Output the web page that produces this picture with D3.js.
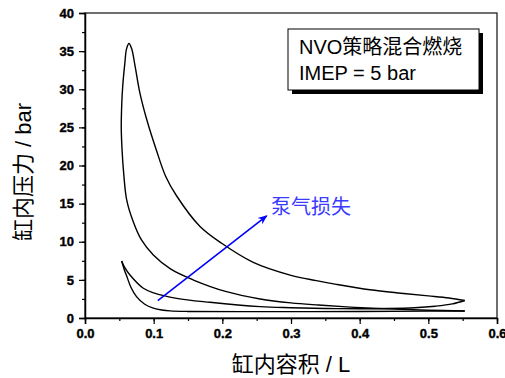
<!DOCTYPE html>
<html>
<head>
<meta charset="utf-8">
<script src="https://cdn.jsdelivr.net/npm/d3@7"></script>
<style>
  body { margin: 0; background: #fff; }
  text { font-family: "Liberation Sans", Arial, "Noto Sans CJK SC", sans-serif; }
</style>
</head>
<body>
<div id="graph"></div>
<script>
// compression + combustion (main loop, inner branch)
var compV = [0.553, 0.50, 0.45, 0.393, 0.34, 0.30, 0.255, 0.206, 0.158, 0.125, 0.0995, 0.0825, 0.07, 0.0607, 0.0565, 0.054, 0.0528, 0.0535, 0.055, 0.058, 0.0605, 0.0641];
var compP = [0.92, 1.02, 1.17, 1.4, 1.7, 1.98, 2.5, 3.45, 4.98, 6.4, 8.26, 10.2, 12.7, 15.5, 18.8, 22, 25, 28, 30.5, 33.4, 35.3, 36.0];
// expansion (main loop, outer branch)
var expV = [0.0641, 0.068, 0.073, 0.080, 0.090, 0.104, 0.1174, 0.1335, 0.1675, 0.199, 0.245, 0.30, 0.337, 0.364, 0.415, 0.46, 0.50, 0.53, 0.553];
var expP = [36.0, 35.3, 33.0, 29.5, 26.0, 22.0, 18.6, 16.0, 12.0, 9.8, 7.3, 5.6, 4.9, 4.45, 3.7, 3.25, 2.9, 2.62, 2.3];
// exhaust + recompression (NVO)
var exhV = [0.553, 0.535, 0.51, 0.48, 0.44, 0.40, 0.35, 0.30, 0.255, 0.182, 0.1335, 0.10, 0.085, 0.0655, 0.058, 0.0534];
var exhP = [2.3, 1.85, 1.55, 1.35, 1.25, 1.22, 1.25, 1.35, 1.49, 2.06, 2.58, 3.3, 3.9, 5.64, 6.6, 7.48];
// re-expansion + intake
var reV = [0.0534, 0.057, 0.0607, 0.067, 0.075, 0.087, 0.0995, 0.112, 0.124, 0.15, 0.255, 0.40, 0.50, 0.553];
var reP = [7.48, 6.4, 5.5, 4.0, 2.8, 1.8, 1.3, 1.05, 0.93, 0.86, 0.83, 0.86, 0.9, 0.92];

var arrowV = [0.106, 0.2646];
var arrowP = [2.27, 13.4];

var xTicks = [0.0, 0.1, 0.2, 0.3, 0.4, 0.5, 0.6];
var yTicks = [0, 5, 10, 15, 20, 25, 30, 35, 40];

var legendLines = ["NVO策略混合燃烧", "IMEP = 5 bar"];
var arrowLabel = "泵气损失";
var xTitle = "缸内容积 / L";
var yTitle = "缸内压力 / bar";

var width = 505, height = 378;
var pL = 85, pR = 497, pT = 13, pB = 318;

var svg = d3.select("#graph").append("svg")
    .attr("width", width)
    .attr("height", height);

var x = d3.scaleLinear().domain([0, 0.6]).range([pL, pR]);
var y = d3.scaleLinear().domain([0, 40]).range([pB, pT]);

// frame
svg.append("rect")
    .attr("x", pL).attr("y", pT)
    .attr("width", pR - pL).attr("height", pB - pT)
    .attr("fill", "none").attr("stroke", "#222").attr("stroke-width", 1.3);

// minor ticks
var minorX = d3.range(0, 0.6001, 0.05);
var minorY = d3.range(0, 40.001, 2.5);
svg.append("g").attr("transform", "translate(0," + pB + ")")
    .call(d3.axisBottom(x).tickValues(minorX).tickSize(3).tickFormat(""))
    .call(function (g) { g.select(".domain").remove(); });
svg.append("g").attr("transform", "translate(" + pL + ",0)")
    .call(d3.axisLeft(y).tickValues(minorY).tickSize(3).tickFormat(""))
    .call(function (g) { g.select(".domain").remove(); });

// major axes
var xAxis = svg.append("g").attr("transform", "translate(0," + pB + ")")
    .call(d3.axisBottom(x).tickValues(xTicks).tickSize(6).tickPadding(5).tickFormat(d3.format(".1f")));
var yAxis = svg.append("g").attr("transform", "translate(" + pL + ",0)")
    .call(d3.axisLeft(y).tickValues(yTicks).tickSize(6).tickPadding(5).tickFormat(d3.format("d")));

[xAxis, yAxis].forEach(function (a) {
    a.attr("font-size", 13).attr("font-family", "'Liberation Sans', Arial, sans-serif").attr("font-weight", "bold");
    a.select(".domain").attr("stroke", "#000").attr("stroke-width", 1.5);
    a.selectAll(".tick text")
        .attr("fill", "#000")
        .attr("stroke", "#000")
        .attr("stroke-width", 0.4)
        .style("font-family", "'Liberation Sans', Arial, sans-serif")
        .style("font-weight", "700")
        .style("font-size", "13px");
});
svg.selectAll(".tick line").attr("stroke", "#000").attr("stroke-width", 1.2);

// curves
var line = d3.line()
    .x(function (d) { return x(d[0]); })
    .y(function (d) { return y(d[1]); })
    .curve(d3.curveCatmullRom.alpha(0.5));

function pairs(vs, ps) { return vs.map(function (v, i) { return [v, ps[i]]; }); }

var mainLoop = pairs(compV, compP).concat(pairs(expV, expP).slice(1));
[mainLoop, pairs(exhV, exhP), pairs(reV, reP)].forEach(function (pts) {
    svg.append("path")
        .attr("d", line(pts))
        .attr("fill", "none")
        .attr("stroke", "#000")
        .attr("stroke-width", 1.4);
});

// arrow
svg.append("defs").append("marker")
    .attr("id", "head")
    .attr("viewBox", "0 0 10 10")
    .attr("refX", 9).attr("refY", 5)
    .attr("markerWidth", 6).attr("markerHeight", 6)
    .attr("markerUnits", "strokeWidth")
    .attr("orient", "auto")
    .append("path")
    .attr("d", "M0,1 L10,5 L0,9 L3,5 Z")
    .attr("fill", "#0000ff");

svg.append("line")
    .attr("x1", x(arrowV[0])).attr("y1", y(arrowP[0]))
    .attr("x2", x(arrowV[1])).attr("y2", y(arrowP[1]))
    .attr("stroke", "#0000ff").attr("stroke-width", 1.6)
    .attr("marker-end", "url(#head)");

svg.append("text")
    .attr("x", 271).attr("y", 214)
    .attr("fill", "#3b3bff")
    .style("font-size", "20px")
    .text(arrowLabel);

// legend box with shadow
svg.append("rect")
    .attr("x", 292).attr("y", 33).attr("width", 191).attr("height", 61)
    .attr("fill", "#000");
svg.append("rect")
    .attr("x", 288).attr("y", 29).attr("width", 191).attr("height", 61)
    .attr("fill", "#fff").attr("stroke", "#000").attr("stroke-width", 1);
svg.selectAll(".leg").data(legendLines).enter().append("text")
    .attr("class", "leg")
    .attr("x", 299)
    .attr("y", function (d, i) { return 54 + i * 26; })
    .attr("fill", "#000")
    .style("font-size", "20px")
    .text(function (d) { return d; });

// axis titles
svg.append("text")
    .attr("x", (pL + pR) / 2).attr("y", 372)
    .attr("text-anchor", "middle")
    .style("font-size", "22px")
    .text(xTitle);
svg.append("text")
    .attr("transform", "translate(31,172) rotate(-90)")
    .attr("text-anchor", "middle")
    .style("font-size", "22px")
    .text(yTitle);
</script>
</body>
</html>
